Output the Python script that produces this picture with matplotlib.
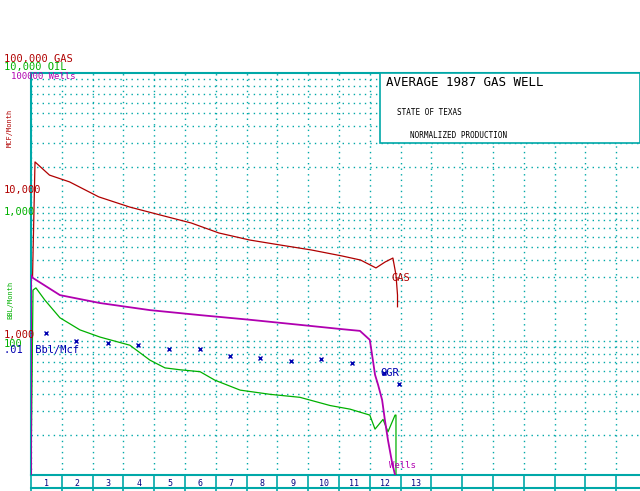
import matplotlib
matplotlib.use("Agg")
import matplotlib.pyplot as plt
from matplotlib.patches import Rectangle
from matplotlib.lines import Line2D
import numpy as np

gas_t = [0.05,0.13,0.6,1.25,2.2,3.2,4.2,5.2,6.1,7.1,8.1,9.1,10.1,10.7,11.2,11.5,11.75,11.85,11.9,11.9]
gas_v = [3000,21700,17300,15400,11900,10000,8710,7600,6400,5670,5200,4780,4310,4020,3510,3890,4160,3110,2200,1800]
oil_t = [0.0,0.065,0.16,0.45,0.94,1.59,2.24,3.21,3.86,4.35,4.84,5.49,5.97,6.79,7.76,8.73,9.71,10.36,11.0,11.17,11.43,11.59,11.82,11.85,11.85]
oil_v = [10,240,249,202,149,121,107,93,72,63,61,59,51,43,40,38,33,31,28,22,26,21,28,28,10]
well_t = [0.0,0.0,0.065,0.94,2.24,3.86,5.49,7.11,8.73,10.03,10.68,11.0,11.1,11.17,11.27,11.4,11.49,11.59,11.72,11.82]
well_v = [100,3100,2950,2200,1920,1700,1560,1440,1320,1230,1190,1020,720,560,470,363,257,182,125,100]
ogr_t = [0.49,1.46,2.5,3.47,4.48,5.49,6.46,7.44,8.44,9.42,10.42,11.46,11.95]
ogr_v = [0.0115,0.0100,0.0097,0.0093,0.0087,0.0087,0.0077,0.0075,0.0071,0.0074,0.0069,0.0058,0.0048]
year_labels = [str(i) for i in range(1, 14)]

RED, GRN, MAG, BLU, TEAL = "#b00000", "#00b000", "#b000b0", "#0000b0", "#00a8a8"
W, H = 640, 491
fig = plt.figure(figsize=(6.4, 4.91), dpi=100)
ax = fig.add_axes([31/W, 16/H, 1-31/W, (475-73)/H])
XMAX = (640-31)/30.8
ax.set_xlim(0, XMAX)
ax.set_yscale("log")
ax.set_ylim(1e2, 1e5)
ax.spines["right"].set_visible(False)
for s in ["left", "top", "bottom"]:
    ax.spines[s].set_color(TEAL); ax.spines[s].set_linewidth(1.5)
ax.set_yticks([]); ax.set_yticks([], minor=True)
ax.set_xticks(range(0, 20)); ax.set_xticklabels([])
ax.set_xticks(np.arange(0.5, 13), minor=True)
ax.set_xticklabels(year_labels, minor=True, fontsize=6, family="DejaVu Sans Mono", color="#000080")
ax.tick_params(axis="x", which="major", direction="out", length=13, color=TEAL, width=1.2)
ax.tick_params(axis="x", which="minor", length=0, pad=3)
ax.grid(axis="x", which="major", color=TEAL, linestyle=(0, (1, 3)), linewidth=1)
for y in [10**e * m for e in range(2, 5) for m in range(1, 10)]:
    ax.axhline(y, color=TEAL, linestyle=(0, (1, 3)), linewidth=1)
ax.plot(gas_t, gas_v, color=RED, lw=0.9)

ax2 = ax.twinx(); ax2.set_yscale("log"); ax2.set_ylim(1e1, 1e4)
ax3 = ax.twinx(); ax3.set_yscale("log"); ax3.set_ylim(1e2, 1e5)
ax4 = ax.twinx(); ax4.set_yscale("log"); ax4.set_ylim(1e-3, 1e0)
for a in (ax2, ax3, ax4):
    a.axis("off")
ax2.plot(oil_t, oil_v, color=GRN, lw=0.9)
ax3.plot(well_t, well_v, color=MAG, lw=1.3)
ax4.plot(ogr_t, ogr_v, "x", color=BLU, ms=3, mew=1)

fig.add_artist(Line2D([31/W, 1], [3/H, 3/H], color=TEAL, lw=1.5))

def t(x, y, s, c, size=7.5, **kw):
    fig.text(x/W, 1-y/H, s, color=c, fontsize=size, family="DejaVu Sans Mono", va="center", **kw)

t(4, 59, "100,000 GAS", RED)
t(4, 67, "10,000 OIL", GRN)
t(11, 77, "100000 Wells", MAG, size=6.5)
t(10, 128, "MCF/Month", RED, size=5, rotation=90, ha="center")
t(4, 190, "10,000", RED)
t(4, 212, "1,000", GRN)
t(10, 300, "BBL/Month", GRN, size=5, rotation=90, ha="center")
t(4, 335, "1,000", RED)
t(4, 344, "100", GRN)
t(4, 350, ".01  Bbl/Mcf", BLU)
t(392, 278, "GAS", RED)
t(380, 373, "OGR", BLU)
t(389, 465, "Wells", MAG, size=6.5)

fig.add_artist(Rectangle((380/W, 1-143/H), 260/W, 70/H, transform=fig.transFigure,
                         fc="white", ec=TEAL, lw=1.2, zorder=5))
fig.text(386/W, 1-82/H, "AVERAGE 1987 GAS WELL", fontsize=9, family="DejaVu Sans Mono", va="center", zorder=6)
fig.text(397/W, 1-112/H, "STATE OF TEXAS", fontsize=5.5, family="DejaVu Sans Mono", va="center", zorder=6)
fig.text(410/W, 1-136/H, "NORMALIZED PRODUCTION", fontsize=5.5, family="DejaVu Sans Mono", va="center", zorder=6)
fig.savefig("out.png", dpi=100)
